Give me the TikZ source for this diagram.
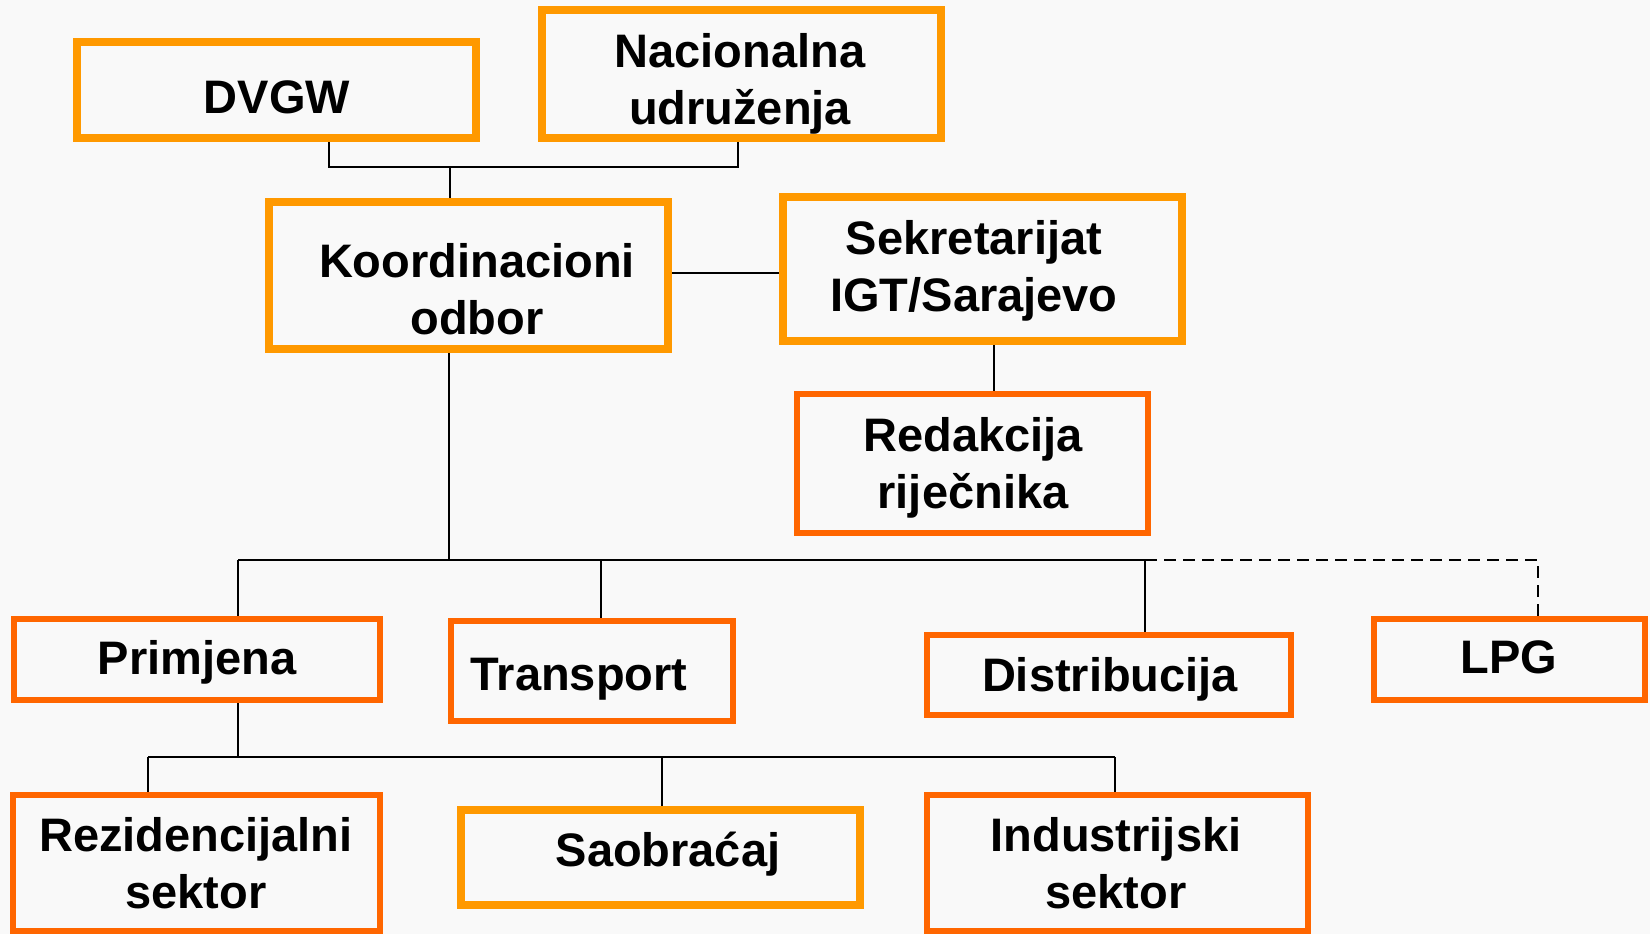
\documentclass[tikz,border=0pt]{standalone}
\usepackage{fontspec}
\setmainfont{Liberation Sans}
\definecolor{oy}{HTML}{FF9900}
\definecolor{orr}{HTML}{FF6600}
\definecolor{bgc}{HTML}{F9F9F9}
\begin{document}
\begin{tikzpicture}[x=1pt,y=-1pt,
  ybox/.style={draw=oy,line width=8pt,inner sep=0pt,rectangle},
  rbox/.style={draw=orr,line width=6pt,inner sep=0pt,rectangle},
  txt/.style={anchor=north,inner sep=0pt,align=center,font=\fontsize{47}{57}\selectfont\bfseries},
  conn/.style={draw=black,line width=2.5pt},
  dconn/.style={draw=black,line width=2.5pt,dash pattern=on 12pt off 7pt}]
\useasboundingbox (0,0) rectangle (1650,934);
\fill[bgc] (0,0) rectangle (1650,934);
% boxes
\node[ybox,minimum width=399pt,minimum height=96pt] (dvgw) at (276.5,90) {};
\node[ybox,minimum width=399pt,minimum height=128pt] (nac) at (741.5,74) {};
\node[ybox,minimum width=399pt,minimum height=147pt] (koord) at (468.5,275.5) {};
\node[ybox,minimum width=399pt,minimum height=144pt] (sek) at (982.5,269) {};
\node[rbox,minimum width=351pt,minimum height=139pt] (red) at (972.5,463.5) {};
\node[rbox,minimum width=366pt,minimum height=81pt] (prim) at (197,659.5) {};
\node[rbox,minimum width=282pt,minimum height=100pt] (trans) at (592,671) {};
\node[rbox,minimum width=364pt,minimum height=80pt] (dist) at (1109,675) {};
\node[rbox,minimum width=271pt,minimum height=81pt] (lpg) at (1509.5,659.5) {};
\node[rbox,minimum width=367pt,minimum height=136pt] (rez) at (196.5,863) {};
\node[ybox,minimum width=399pt,minimum height=95pt] (sao) at (660.5,857.5) {};
\node[rbox,minimum width=381pt,minimum height=136pt] (ind) at (1117.5,863) {};
% texts
\node[txt] (dvgwt) at (277,80) {DVGW};
\node[txt] (nact) at (740,33) {Nacionalna\\udruženja};
\node[txt] (koordt) at (477,243) {Koordinacioni\\odbor};
\node[txt] (sekt) at (974,220) {Sekretarijat\\IGT/Sarajevo};
\node[txt] (redt) at (973,417) {Redakcija\\riječnika};
\node[txt] (primt) at (197,640) {Primjena};
\node[txt] (transt) at (579,658) {Transport};
\node[txt] (distt) at (1110,657) {Distribucija};
\node[txt] (lpgt) at (1509,640) {LPG};
\node[txt] (rezt) at (196,817) {Rezidencijalni\\sektor};
\node[txt] (saot) at (668,832) {Saobraćaj};
\node[txt] (indt) at (1116,817) {Industrijski\\sektor};
% junction coordinates
\coordinate (ja) at (329,167);
\coordinate (jb) at (738,167);
\coordinate (j1) at (450,167);
\coordinate (k1) at (0,273);
\coordinate (r1) at (994,0);
\coordinate (b0) at (449,560);
\coordinate (bl) at (238,560);
\coordinate (bt) at (601,560);
\coordinate (bd) at (1145,560);
\coordinate (bp) at (1538,560);
\coordinate (c0) at (238,757);
\coordinate (cl) at (148,757);
\coordinate (cs) at (662,757);
\coordinate (ci) at (1115,757);
% connectors
\begin{scope}[on background layer/.style={}]
\draw[conn] (dvgw.south -| ja) -- (ja) -- (jb) -- (nac.south -| jb);
\draw[conn] (j1) -- (koord.north -| j1);
\draw[conn] (koord.east |- k1) -- (sek.west |- k1);
\draw[conn] (sek.south -| r1) -- (red.north -| r1);
\draw[conn] (koord.south -| b0) -- (b0);
\draw[conn] (bl) -- (bd);
\draw[conn] (bl) -- (prim.north -| bl);
\draw[conn] (bt) -- (trans.north -| bt);
\draw[conn] (bd) -- (dist.north -| bd);
\draw[dconn] (bd) -- (bp) -- (lpg.north -| bp);
\draw[conn] (prim.south -| c0) -- (c0);
\draw[conn] (cl) -- (ci);
\draw[conn] (cl) -- (rez.north -| cl);
\draw[conn] (cs) -- (sao.north -| cs);
\draw[conn] (ci) -- (ind.north -| ci);
\end{scope}
\end{tikzpicture}
\end{document}
